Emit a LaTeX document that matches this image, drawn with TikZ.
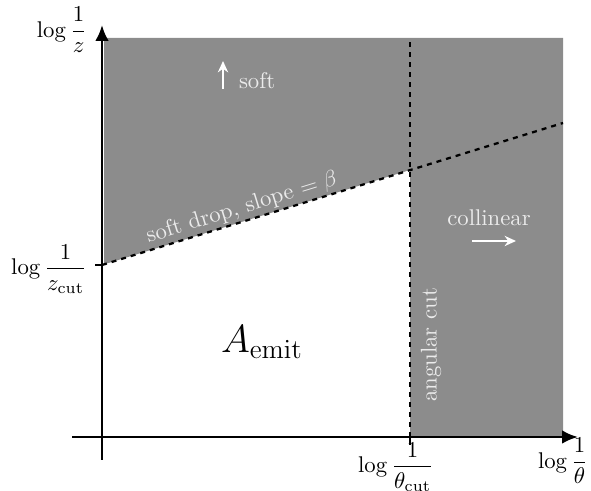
\documentclass[tikz,border=0pt]{standalone}
\usepackage{amsmath}
\usetikzlibrary{arrows.meta}
\begin{document}
\begin{tikzpicture}[x=0.44pt,y=0.44pt,
  axis/.style={line width=1.2pt,-{Latex[length=7pt,width=6pt]}},
  cutline/.style={line width=1pt,dash pattern=on 2.2pt off 2.2pt},
  whitearrow/.style={white,line width=1pt,-{Stealth[length=5pt,width=4.5pt]}},
  lbl/.style={inner sep=1pt},
  region/.style={text=black!8}]
\useasboundingbox (0,0) rectangle (591,491);
\coordinate (O) at (102,54);
\coordinate (zc) at (102,226);
\coordinate (sr) at (563,368);
\coordinate (tc) at (410,321);
\coordinate (tb) at (410,54);
\coordinate (tt) at (410,453);
\fill[black!45] (104,453) -- (563,453) -- (563,54) -- (tb) -- (tc) -- (104,226.6) -- cycle;
\draw[cutline] (zc) -- (sr);
\draw[cutline] (tb) -- (tt);
\draw[axis] (102,31) -- (102,466) coordinate (ytop);
\draw[axis] (72,54) -- (578,54) coordinate (xend);
\draw[line width=1pt] (95,226) -- (zc);
\draw[line width=1pt] (410,54) -- (410,46);
\node[lbl] (yl) at (62,461) {$\log\dfrac{1}{z}$};
\node[lbl] (zl) at (49,222) {$\log\dfrac{1}{z_{\mathrm{cut}}}$};
\node[lbl] (thl) at (396,24) {$\log\dfrac{1}{\theta_{\mathrm{cut}}}$};
\node[lbl] (xl) at (563,30) {$\log\dfrac{1}{\theta}$};
\node[font=\fontsize{18.5}{22}\selectfont] (A) at (262,149) {$A_{\mathrm{emit}}$};
\node[region,rotate=90] (ang) at (431,146) {angular cut};
\node[region,rotate=17.1] (sd) at (242,283) {soft drop, slope $=\beta$};
\node[region] (col) at (489,273) {collinear};
\coordinate (ca) at (472,250);
\coordinate (cb) at (516,250);
\draw[whitearrow] (ca) -- (cb);
\coordinate (sa) at (223,402);
\coordinate (sb) at (223,430);
\draw[whitearrow] (sa) -- (sb);
\node[region,anchor=west] (soft) at (231,410) {soft};
\end{tikzpicture}
\end{document}
